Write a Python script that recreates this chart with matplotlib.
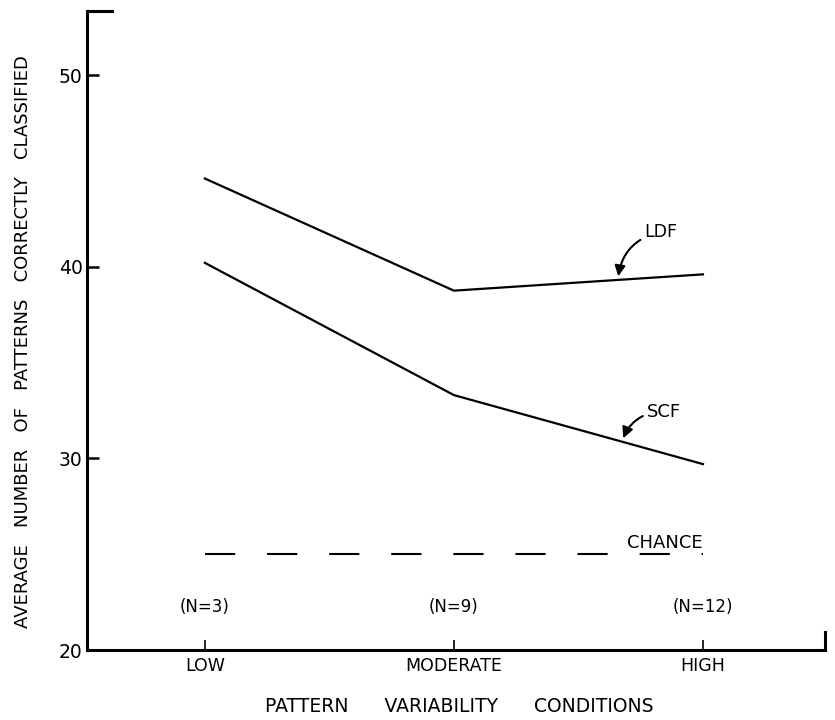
import matplotlib
matplotlib.use("Agg")
import matplotlib.pyplot as plt

# values
conditions = ["LOW", "MODERATE", "HIGH"]
n_labels = ["(N=3)", "(N=9)", "(N=12)"]
ldf = [44.6, 38.75, 39.6]
scf = [40.2, 33.3, 29.7]
chance = 25.0
y_ticks = [20, 30, 40, 50]

plt.rcParams["font.family"] = ["DejaVu Sans"]

fig = plt.figure(figsize=(8.35, 7.2), dpi=100)
ax = fig.add_axes([0.104, 0.0972, 0.884, 0.8875])

x = list(range(len(conditions)))
ax.plot(x, ldf, color="black", lw=1.6)
ax.plot(x, scf, color="black", lw=1.6)
ax.plot([x[0], x[-1]], [chance, chance], color="black", lw=1.5,
        linestyle=(0, (14.5, 15.3)))

ax.set_xlim(-0.474, 2.49)
ax.set_ylim(20, 53.34)

# group sizes above each condition
for xi, lab in zip(x, n_labels):
    ax.text(xi, 22.25, lab, ha="center", va="center", fontsize=12)

ax.text(x[-1], 25.12, "CHANCE", ha="right", va="bottom", fontsize=13)

arrow = dict(arrowstyle="-|>,head_length=0.5,head_width=0.25", color="black",
             lw=1.5, connectionstyle="arc3,rad=0.35", shrinkA=1, shrinkB=0)
ax.annotate("LDF", xy=(1.66, 39.5), xytext=(1.765, 41.8), ha="left",
            va="center", fontsize=12.5, arrowprops=arrow)
ax.annotate("SCF", xy=(1.68, 31.05), xytext=(1.775, 32.4), ha="left",
            va="center", fontsize=13, arrowprops=arrow)

ax.set_xticks(x)
ax.set_xticklabels(conditions, fontsize=12.5)
ax.set_yticks(y_ticks)
ax.set_yticklabels([str(v) for v in y_ticks], fontsize=13.5)
ax.tick_params(axis="x", direction="in", length=7, width=1.2, pad=5)
ax.tick_params(axis="y", direction="in", length=8.5, width=1.8, pad=3)

for side in ("top", "right"):
    ax.spines[side].set_visible(False)
for side in ("left", "bottom"):
    ax.spines[side].set_linewidth(2.2)

# short end marks at the top-left and bottom-right of the frame
ax.plot([0, 0.034], [1, 1], transform=ax.transAxes, color="black", lw=2.2,
        clip_on=False, solid_capstyle="projecting")
ax.plot([1, 1], [0, 0.028], transform=ax.transAxes, color="black", lw=2.2,
        clip_on=False, solid_capstyle="projecting")

ax.set_ylabel("AVERAGE   NUMBER   OF   PATTERNS   CORRECTLY   CLASSIFIED",
              fontsize=13)
ax.yaxis.set_label_coords(-0.074, 0.482)
ax.set_xlabel("PATTERN      VARIABILITY      CONDITIONS", fontsize=13.5)
ax.xaxis.set_label_coords(0.505, -0.074)

fig.savefig("out.png", dpi=100)
